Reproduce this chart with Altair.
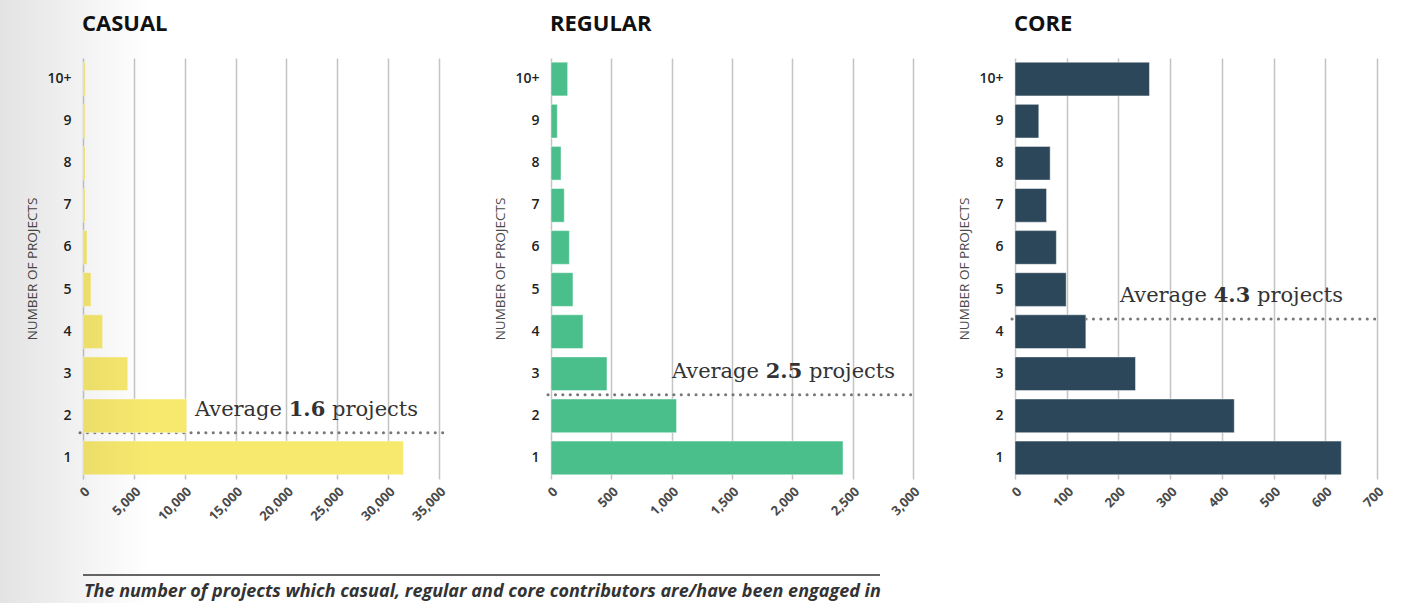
import altair as alt
import pandas as pd

# Number of projects a contributor is engaged in (y categories)
categories = ["1", "2", "3", "4", "5", "6", "7", "8", "9", "10+"]

# Contributor counts per number of projects
casual_counts = [31500, 10200, 4400, 1930, 780, 390, 200, 200, 190, 210]
regular_counts = [2420, 1040, 464, 265, 182, 152, 110, 83, 52, 138]
core_counts = [631, 424, 233, 137, 99, 80, 61, 68, 46, 260]

# Average number of projects per group
averages = {"CASUAL": 1.6, "REGULAR": 2.5, "CORE": 4.3}

# Axis extents and tick steps
x_max = {"CASUAL": 35000, "REGULAR": 3000, "CORE": 700}
x_step = {"CASUAL": 5000, "REGULAR": 500, "CORE": 100}

caption = ("The number of projects which casual, regular and core "
           "contributors are/have been engaged in")

PLOT_H = 421
LABEL_FONT = "Open Sans"
ANNOT_FONT = "DejaVu Serif"


def panel(name, counts, color, axis_len, view_w, avg_center, rule_end,
          extra=()):
    df = pd.DataFrame({"projects": categories, "count": counts})
    avg_df = pd.DataFrame({"avg": [averages[name]]})
    one = pd.DataFrame({"k": [0]})

    x_enc = alt.X(
        "count:Q",
        scale=alt.Scale(domain=[0, x_max[name]], nice=False,
                        range=[0, axis_len]),
        axis=alt.Axis(
            title=None,
            values=list(range(0, x_max[name] + 1, x_step[name])),
            labelExpr="format(datum.value, ',')",
            labelAngle=-45,
            labelFont=LABEL_FONT,
            labelFontSize=13,
            labelFontWeight="bold",
            labelColor="#4a4a4a",
            labelPadding=6,
            grid=True,
            gridColor="#c4c4c4",
            gridWidth=1.5,
            domain=False,
            ticks=False,
        ),
    )
    y_enc = alt.Y(
        "projects:O",
        sort=list(reversed(categories)),
        scale=alt.Scale(paddingInner=0.2, paddingOuter=0.1),
        axis=alt.Axis(
            title="NUMBER OF PROJECTS",
            titleFont=LABEL_FONT,
            titleFontSize=13.5,
            titleFontWeight="normal",
            titleColor="#4a4a4a",
            titlePadding=7,
            labelFont=LABEL_FONT,
            labelFontSize=14,
            labelFontWeight=600,
            labelColor="#222222",
            labelPadding=12,
            domain=False,
            ticks=False,
        ),
    )

    avg_y = alt.Y("avg:Q", scale=alt.Scale(domain=[0.5, 10.5]), axis=None)

    avg_rule = alt.Chart(avg_df).mark_rule(
        color="#777777", strokeWidth=3, strokeCap="round", strokeDash=[0.1, 7.3]
    ).encode(y=avg_y, x=alt.value(-3), x2=alt.value(rule_end))

    bars = alt.Chart(df).mark_bar(
        color=color, stroke="#ffffff", strokeOpacity=0.45, strokeWidth=1
    ).encode(x=x_enc, y=y_enc)

    txt_kw = dict(font=ANNOT_FONT, fontSize=21, color="#333333", dy=-17,
                  baseline="alphabetic")
    avg_word = alt.Chart(avg_df).mark_text(align="right", **txt_kw).encode(
        y=avg_y, x=alt.value(avg_center - 25), text=alt.value("Average"))
    avg_num = alt.Chart(avg_df).mark_text(align="center", fontWeight="bold",
                                          **txt_kw).encode(
        y=avg_y, x=alt.value(avg_center), text=alt.Text("avg:Q", format=".1f"))
    avg_unit = alt.Chart(avg_df).mark_text(align="left", **txt_kw).encode(
        y=avg_y, x=alt.value(avg_center + 25), text=alt.value("projects"))

    # Panel heading
    heading = alt.Chart(one).mark_text(
        align="left", baseline="alphabetic", font=LABEL_FONT, fontSize=22,
        fontWeight="bold", color="#111111",
    ).encode(x=alt.value(-1), y=alt.value(-27), text=alt.value(name))

    layers = [avg_rule, bars, avg_word, avg_num, avg_unit, heading, *extra]
    return alt.layer(*layers).resolve_scale(y="independent").properties(
        width=view_w, height=PLOT_H
    )


one = pd.DataFrame({"k": [0]})

# Soft shading along the left edge of the page
shade = alt.Chart(one).mark_rect(
    color=alt.Gradient(
        gradient="linear",
        stops=[
            alt.GradientStop(color="rgba(0,0,0,0.11)", offset=0),
            alt.GradientStop(color="rgba(0,0,0,0)", offset=1),
        ],
        x1=0, x2=1, y1=0, y2=0,
    )
).encode(x=alt.value(-83), x2=alt.value(67), y=alt.value(-58),
         y2=alt.value(545))

# Caption with its separator line under the first panel
cap_rule = alt.Chart(one).mark_rule(color="#333333", strokeWidth=1.5).encode(
    x=alt.value(0), x2=alt.value(797), y=alt.value(517))
cap_text = alt.Chart(one).mark_text(
    align="left", baseline="alphabetic", font=LABEL_FONT, fontSize=18,
    fontStyle="italic", fontWeight="bold", color="#333333",
).encode(x=alt.value(1), y=alt.value(539), text=alt.value(caption))

casual = panel("CASUAL", casual_counts, "#f7e96e", 356, 366, 224, 364,
               extra=(shade, cap_rule, cap_text))
regular = panel("REGULAR", regular_counts, "#4abf8b", 362, 362, 233, 366)
core = panel("CORE", core_counts, "#2c4759", 362, 362, 217, 362)

chart = alt.hconcat(casual, regular, core, spacing=102, bounds="flush").properties(
    padding={"left": 0, "top": 0, "right": 20, "bottom": 0},
    background="white",
).configure_view(stroke=None)

chart.save("out.html", embed_options={"renderer": "svg", "actions": False})
